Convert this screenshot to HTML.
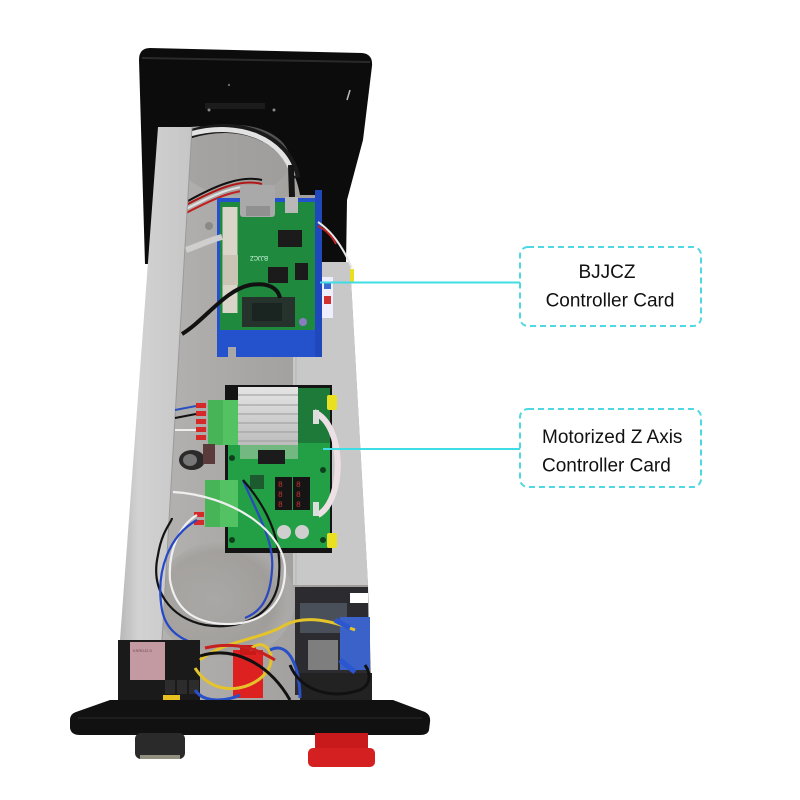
<!DOCTYPE html>
<html><head><meta charset="utf-8"><style>
html,body{margin:0;padding:0;background:#fff;}
svg{display:block;}
</style></head><body>
<svg width="800" height="800" viewBox="0 0 800 800" xmlns="http://www.w3.org/2000/svg">
<defs>
<linearGradient id="alu" x1="0" y1="0" x2="1" y2="0">
<stop offset="0" stop-color="#b4b2b0"/><stop offset="0.5" stop-color="#a6a4a2"/><stop offset="1" stop-color="#9e9b98"/>
</linearGradient>
<linearGradient id="plate" x1="0" y1="0" x2="1" y2="0">
<stop offset="0" stop-color="#b8b8b8"/><stop offset="0.25" stop-color="#d2d2d2"/><stop offset="1" stop-color="#c6c6c6"/>
</linearGradient>
<linearGradient id="hs" x1="0" y1="0" x2="0" y2="1">
<stop offset="0" stop-color="#e4e4e4"/><stop offset="1" stop-color="#bdbdbd"/>
</linearGradient>
<radialGradient id="circ" cx="0.45" cy="0.5" r="0.5">
<stop offset="0" stop-color="#a8a6a4"/><stop offset="0.8" stop-color="#9c9996"/><stop offset="1" stop-color="#b0aeac"/>
</radialGradient>
</defs>

<!-- black top panel -->
<path d="M139,60 Q139,48 150,48 L362,53 Q373,54 372,66 L363,140 L347,200 L346,264 L145,264 Z" fill="#0c0c0c"/>
<path d="M142,58 L370,62" stroke="#2a2a2a" stroke-width="2"/>
<rect x="205" y="103" width="60" height="6" fill="#1c1c1c"/>
<circle cx="209" cy="110" r="1.5" fill="#888"/><circle cx="274" cy="110" r="1.5" fill="#888"/><circle cx="229" cy="85" r="1.2" fill="#666"/>
<path d="M350,90 L347,100" stroke="#bbb" stroke-width="1.5"/>

<!-- aluminium main plate -->
<path d="M172,127 L190,127 C245,122 292,145 300,195 L318,195 L318,262 L350,262 L368,585 L372,700 L160,700 Z" fill="url(#alu)"/>
<ellipse cx="225" cy="600" rx="70" ry="60" fill="url(#circ)" opacity="0.6"/>
<ellipse cx="235" cy="160" rx="55" ry="35" fill="#9c9a98" opacity="0.5"/>
<!-- right lighter bracket -->
<path d="M293,352 L320,352 L320,262 L350,262 L368,585 L293,585 Z" fill="#c8c8c8"/>
<path d="M296,352 L296,585" stroke="#b5b5b5" stroke-width="1"/>

<!-- top cables -->
<path d="M190,134 C240,118 288,138 296,178" fill="none" stroke="#1a1a1a" stroke-width="9"/>
<path d="M190,134 C240,120 285,140 293,176" fill="none" stroke="#e2e2e2" stroke-width="5"/>
<path d="M291,165 L292,197" stroke="#151515" stroke-width="6"/>
<g stroke-width="2" fill="none">
<path d="M186,205 C215,190 240,178 262,184" stroke="#b01818"/>
<path d="M186,209 C215,194 240,182 262,188" stroke="#e0e0e0"/>
<path d="M186,213 C215,198 240,186 262,192" stroke="#c02020"/>
<path d="M188,201 C215,186 240,175 262,180" stroke="#111"/>
</g>
<circle cx="209" cy="226" r="4" fill="#8a8a8a"/>

<!-- BJJCZ board -->
<rect x="217" y="198" width="105" height="159" fill="#2352cc"/>
<rect x="315" y="190" width="7" height="167" fill="#1e48bb"/>
<rect x="228" y="347" width="8" height="10" fill="#a8a8a8"/>
<rect x="220" y="202" width="95" height="128" fill="#1f8a3e"/>
<rect x="240" y="185" width="35" height="32" rx="3" fill="#a9a9a9"/>
<rect x="246" y="206" width="24" height="10" fill="#909090"/>
<rect x="285" y="197" width="13" height="16" fill="#b8b8b8"/>
<rect x="278" y="230" width="24" height="17" fill="#1b1b1b"/>
<rect x="268" y="267" width="20" height="16" fill="#1b1b1b"/>
<rect x="295" y="263" width="13" height="17" fill="#1b1b1b"/>
<rect x="242" y="297" width="53" height="30" fill="#25332c"/>
<rect x="252" y="303" width="30" height="18" fill="#1a2420"/>
<circle cx="303" cy="322" r="4" fill="#8a7cc0"/>
<text x="268" y="260" font-family="Liberation Sans, sans-serif" font-size="6" fill="#dfe" transform="rotate(180 268 258)">BJJCZ</text>
<!-- grey cable left -->
<path d="M222,237 C210,240 200,245 186,250" stroke="#cfcfcf" stroke-width="6" fill="none"/>
<!-- ethernet cable -->
<path d="M230,207 L230,313" stroke="#d9d5c8" stroke-width="15"/>
<rect x="223" y="255" width="15" height="30" fill="#c9c4b4"/>
<!-- black cable loop -->
<path d="M182,334 C205,320 225,290 250,285 C268,282 278,288 280,298" stroke="#111" stroke-width="4" fill="none"/>
<!-- right sticker and wire -->
<rect x="322" y="277" width="11" height="41" fill="#eef"/>
<rect x="324" y="283" width="7" height="6" fill="#3a6fd0"/>
<rect x="324" y="296" width="7" height="8" fill="#d03030"/>
<path d="M318,222 C330,230 342,245 352,268" stroke="#e8e8e8" stroke-width="2" fill="none"/>
<path d="M318,226 C326,230 332,236 336,244" stroke="#c02020" stroke-width="2" fill="none"/>
<rect x="350" y="269" width="4" height="13" fill="#e8e020"/>

<!-- light side plate -->
<path d="M158,127 L192,127 L162,640 L120,640 Z" fill="url(#plate)"/>
<path d="M192,127 L162,640" stroke="#9a9a9a" stroke-width="1"/>

<!-- Z board -->
<rect x="225" y="385" width="107" height="168" fill="#141414"/>
<rect x="228" y="440" width="102" height="108" fill="#23a046"/>
<rect x="298" y="388" width="32" height="55" fill="#1d7a38"/>
<rect x="238" y="387" width="60" height="58" fill="url(#hs)"/>
<g stroke="#9a9a9a" stroke-width="1">
<line x1="238" y1="395" x2="298" y2="395"/><line x1="238" y1="405" x2="298" y2="405"/>
<line x1="238" y1="414" x2="298" y2="414"/><line x1="238" y1="423" x2="298" y2="423"/>
<line x1="238" y1="432" x2="298" y2="432"/><line x1="238" y1="441" x2="298" y2="441"/>
</g>
<rect x="240" y="445" width="58" height="14" fill="#a8c8a8" opacity="0.6"/>
<rect x="258" y="450" width="27" height="14" fill="#1b1b1b"/>
<rect x="275" y="477" width="17" height="33" fill="#151515"/>
<rect x="293" y="477" width="17" height="33" fill="#151515"/>
<g fill="#c83030" font-family="Liberation Mono, monospace" font-size="8">
<text x="278" y="487">8</text><text x="278" y="497">8</text><text x="278" y="507">8</text>
<text x="296" y="487">8</text><text x="296" y="497">8</text><text x="296" y="507">8</text>
</g>
<circle cx="284" cy="532" r="7" fill="#cfcfcf"/><circle cx="302" cy="532" r="7" fill="#cfcfcf"/>
<rect x="250" y="475" width="14" height="14" fill="#1d5a2f"/>
<circle cx="232" cy="458" r="3" fill="#0f3f1c"/><circle cx="232" cy="540" r="3" fill="#0f3f1c"/><circle cx="323" cy="470" r="3" fill="#0f3f1c"/><circle cx="323" cy="540" r="3" fill="#0f3f1c"/>
<rect x="327" y="395" width="10" height="15" rx="2" fill="#e8e020"/>
<rect x="327" y="533" width="10" height="15" rx="2" fill="#e8e020"/>
<path d="M314,412 C345,425 345,500 318,515" stroke="#ece0e4" stroke-width="6" fill="none"/>
<rect x="313" y="410" width="6" height="14" fill="#ddd"/><rect x="313" y="502" width="6" height="14" fill="#ddd"/>
<!-- terminal blocks -->
<rect x="208" y="400" width="30" height="45" fill="#52c262"/>
<rect x="208" y="400" width="15" height="45" fill="#48b458"/>
<rect x="205" y="480" width="33" height="47" fill="#52c262"/>
<rect x="205" y="480" width="15" height="47" fill="#48b458"/>
<g fill="#d42a2a">
<rect x="196" y="403" width="10" height="5"/><rect x="196" y="411" width="10" height="5"/><rect x="196" y="419" width="10" height="5"/><rect x="196" y="427" width="10" height="5"/><rect x="196" y="435" width="10" height="5"/>
<rect x="194" y="512" width="10" height="5"/><rect x="194" y="520" width="10" height="5"/>
</g>
<!-- small wires left of Z -->
<g fill="none" stroke-width="2">
<path d="M175,410 L196,406" stroke="#2a50c0"/><path d="M175,418 L196,414" stroke="#111"/><path d="M175,430 L196,430" stroke="#eee"/>
</g>
<ellipse cx="192" cy="460" rx="13" ry="10" fill="#2a2a2a"/><ellipse cx="190" cy="460" rx="7" ry="6" fill="#777"/>
<rect x="203" y="444" width="12" height="20" fill="#5a3a3a"/>

<!-- wire loops -->
<g fill="none" stroke-width="2.2">
<path d="M243,480 C255,510 275,540 272,570 C270,600 260,612 245,618" stroke="#2a48c0"/>
<path d="M243,480 C265,505 285,540 278,585 C270,620 235,630 205,625 C170,618 150,590 158,555 C162,530 172,522 172,518" stroke="#141414"/>
<path d="M173,492 C230,495 285,530 285,570 C285,605 262,625 225,624 C195,623 175,610 170,580 C168,550 180,525 197,515" stroke="#efefef"/>
<path d="M197,520 C170,535 155,570 162,610 C166,630 180,640 200,645" stroke="#2448c8"/>
</g>

<!-- bottom components -->
<rect x="118" y="640" width="82" height="63" fill="#1a1a1a"/>
<rect x="130" y="642" width="35" height="38" fill="#c49aa2"/>
<text x="133" y="652" font-family="Liberation Sans, sans-serif" font-size="4" fill="#6a4a50">KSRDJ2-0</text>
<rect x="165" y="680" width="10" height="14" fill="#2c2c2c"/><rect x="177" y="680" width="10" height="14" fill="#2c2c2c"/><rect x="189" y="680" width="10" height="14" fill="#2c2c2c"/>
<rect x="163" y="695" width="17" height="8" fill="#e8c020"/>
<!-- right switch block -->
<rect x="295" y="587" width="73" height="108" fill="#2c2c30"/>
<rect x="300" y="603" width="47" height="30" fill="#4a505a"/>
<rect x="340" y="617" width="30" height="53" fill="#3a62c8"/>
<rect x="308" y="640" width="30" height="30" fill="#7e7e7e"/>
<rect x="300" y="673" width="72" height="27" fill="#222"/>
<rect x="350" y="593" width="18" height="10" fill="#fff"/>
<!-- red connector -->
<rect x="233" y="650" width="30" height="48" fill="#dd2020"/>
<rect x="240" y="645" width="16" height="10" fill="#c81818"/>
<rect x="238" y="700" width="25" height="10" fill="#c8c4c0"/>
<!-- bottom wires -->
<g fill="none" stroke-width="3">
<path d="M200,660 C225,640 260,640 285,625 C305,615 330,620 355,630" stroke="#e4c42a"/>
<path d="M195,668 C215,700 255,690 268,670 C278,652 262,636 250,650" stroke="#e4c42a"/>
<path d="M205,648 C240,640 262,652 275,660" stroke="#c82020"/>
<path d="M200,656 C235,645 270,665 290,700" stroke="#111"/>
<path d="M195,690 C205,705 230,700 240,695" stroke="#2850c8"/>
<path d="M270,650 C290,640 300,670 300,698" stroke="#2850c8"/>
<path d="M290,665 C300,690 330,700 360,690 C370,685 372,675 365,665" stroke="#111"/>
<path d="M335,620 L350,628" stroke="#2a56d0" stroke-width="5"/>
<path d="M340,660 L355,672" stroke="#2a56d0" stroke-width="5"/>
</g>

<!-- base plate -->
<path d="M110,700 L393,700 L425,712 Q431,715 430,722 L429,730 Q428,735 420,735 L80,735 Q71,735 70,728 L70,720 Q70,714 76,712 Z" fill="#111"/>
<path d="M78,718 L422,718" stroke="#2a2a2a" stroke-width="1"/>
<!-- knob -->
<rect x="135" y="733" width="50" height="26" rx="6" fill="#2a2a2a"/>
<rect x="140" y="755" width="40" height="4" fill="#d8d4b8" opacity="0.6"/>
<!-- estop -->
<rect x="315" y="733" width="53" height="17" fill="#c81a1a"/>
<rect x="308" y="748" width="67" height="19" rx="5" fill="#d42020"/>

<!-- connectors to labels -->
<line x1="320" y1="282.5" x2="521" y2="282.5" stroke="#3fdde6" stroke-width="2"/>
<line x1="323" y1="449" x2="521" y2="449" stroke="#3fdde6" stroke-width="2"/>

<!-- label boxes -->
<rect x="520" y="247" width="181" height="79" rx="8" fill="#fff" stroke="#4fd8e2" stroke-width="2" stroke-dasharray="6 4"/>
<rect x="520" y="409" width="181" height="78" rx="8" fill="#fff" stroke="#4fd8e2" stroke-width="2" stroke-dasharray="6 4"/>
<g font-family="Liberation Sans, Arial, sans-serif" font-size="19" fill="#111">
<text x="607" y="278" text-anchor="middle">BJJCZ</text>
<text x="610" y="306.5" text-anchor="middle">Controller Card</text>
<text x="542" y="443">Motorized Z Axis</text>
<text x="542" y="471.5">Controller Card</text>
</g>
</svg>
</body></html>
